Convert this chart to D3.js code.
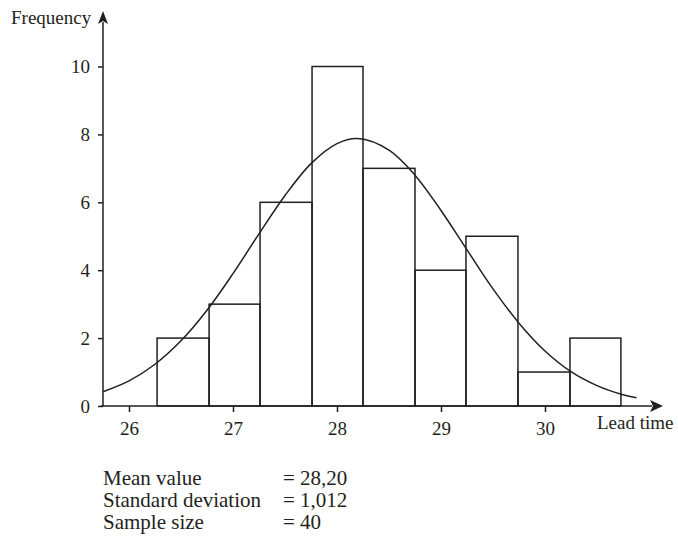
<!DOCTYPE html>
<html>
<head>
<meta charset="utf-8">
<script src="https://cdn.jsdelivr.net/npm/d3@7"></script>
<style>
	body { margin: 0; background: #fff; }
	svg text { font-family: "Liberation Serif", "Times New Roman", serif; fill: #231f20; }
</style>
</head>
<body>
<div id="data-viz"></div>
<script>

// histogram bins (lead time), edges
var binEdges = [26.27, 26.77, 27.26, 27.76, 28.25, 28.75, 29.24, 29.74, 30.24, 30.73]

var frequency = [2, 3, 6, 10, 7, 4, 5, 1, 2]

// fitted normal curve [lead time, frequency]
var curvePoints = [
	[25.75, 0.42], [26.0, 0.74], [26.25, 1.23], [26.5, 1.92], [26.75, 2.82],
	[27.0, 3.90], [27.25, 5.07], [27.5, 6.20], [27.75, 7.14], [28.0, 7.73],
	[28.2, 7.88], [28.5, 7.54], [28.75, 6.80], [29.0, 5.76], [29.25, 4.60],
	[29.5, 3.45], [29.75, 2.44], [30.0, 1.62], [30.25, 1.01], [30.5, 0.60],
	[30.75, 0.33], [30.88, 0.24]
]

var xTicks = [26, 27, 28, 29, 30]

var yTicks = [0, 2, 4, 6, 8, 10]

var stats = [
	["Mean value", "= 28,20"],
	["Standard deviation", "= 1,012"],
	["Sample size", "= 40"]
]

var ink = "#231f20"

var app = {

	settings: {},

	init: () => {

		app.settings.width = 678

		app.settings.height = 538

		app.settings.x = d3.scaleLinear().domain([26, 30]).range([129, 545])

		app.settings.y = d3.scaleLinear().domain([0, 10]).range([406, 66.5])

		app.create()

	},

	create: () => {

		var x = app.settings.x, y = app.settings.y

		var svg = d3.select("#data-viz").append("svg")
			.attr("width", app.settings.width)
			.attr("height", app.settings.height)

		var originX = x(25.75)

		// bars
		svg.append("g").selectAll("rect")
			.data(frequency)
			.enter().append("rect")
			.attr("x", (d, i) => x(binEdges[i]))
			.attr("width", (d, i) => x(binEdges[i + 1]) - x(binEdges[i]))
			.attr("y", d => y(d))
			.attr("height", d => y(0) - y(d))
			.attr("fill", "none")
			.attr("stroke", ink)
			.attr("stroke-width", 1.5)

		// normal curve
		var line = d3.line()
			.x(d => x(d[0]))
			.y(d => y(d[1]))
			.curve(d3.curveCatmullRom)

		svg.append("path")
			.datum(curvePoints)
			.attr("d", line)
			.attr("fill", "none")
			.attr("stroke", ink)
			.attr("stroke-width", 1.5)

		// axes (ticks + labels from d3, lines drawn with arrows)
		var xAxis = svg.append("g")
			.attr("transform", `translate(0,${y(0)})`)
			.call(d3.axisBottom(x).tickValues(xTicks).tickSize(6).tickPadding(10).tickFormat(d3.format("d")))

		var yAxis = svg.append("g")
			.attr("transform", `translate(${originX},0)`)
			.call(d3.axisLeft(y).tickValues(yTicks).tickSize(5).tickPadding(8).tickFormat(d3.format("d")))

		;[xAxis, yAxis].forEach(g => {
			g.select(".domain").remove()
			g.selectAll("line").attr("stroke", ink).attr("stroke-width", 1.5)
			g.selectAll("text").attr("font-size", 19).attr("fill", ink).attr("font-family", null)
		})

		svg.append("line")
			.attr("x1", originX - 2).attr("x2", 652)
			.attr("y1", y(0)).attr("y2", y(0))
			.attr("stroke", ink).attr("stroke-width", 1.5)

		svg.append("line")
			.attr("x1", originX).attr("x2", originX)
			.attr("y1", y(0)).attr("y2", 22)
			.attr("stroke", ink).attr("stroke-width", 1.5)

		// arrow heads
		svg.append("path")
			.attr("d", `M663,${y(0)} L650,${y(0) - 6} L653,${y(0)} L650,${y(0) + 6} Z`)
			.attr("fill", ink)

		svg.append("path")
			.attr("d", `M${originX},11 L${originX - 5},24 L${originX},21 L${originX + 5},24 Z`)
			.attr("fill", ink)

		svg.append("text")
			.attr("x", 11).attr("y", 24)
			.attr("font-size", 19)
			.text("Frequency")

		svg.append("text")
			.attr("x", 597).attr("y", 429)
			.attr("font-size", 19)
			.text("Lead time")

		// summary statistics
		var rows = svg.append("g").selectAll("g")
			.data(stats)
			.enter().append("g")
			.attr("transform", (d, i) => `translate(0,${485 + i * 22})`)

		rows.append("text")
			.attr("x", 103)
			.attr("font-size", 21)
			.text(d => d[0])

		rows.append("text")
			.attr("x", 283)
			.attr("font-size", 21)
			.text(d => d[1])

	}

}

app.init()

</script>
</body>
</html>
